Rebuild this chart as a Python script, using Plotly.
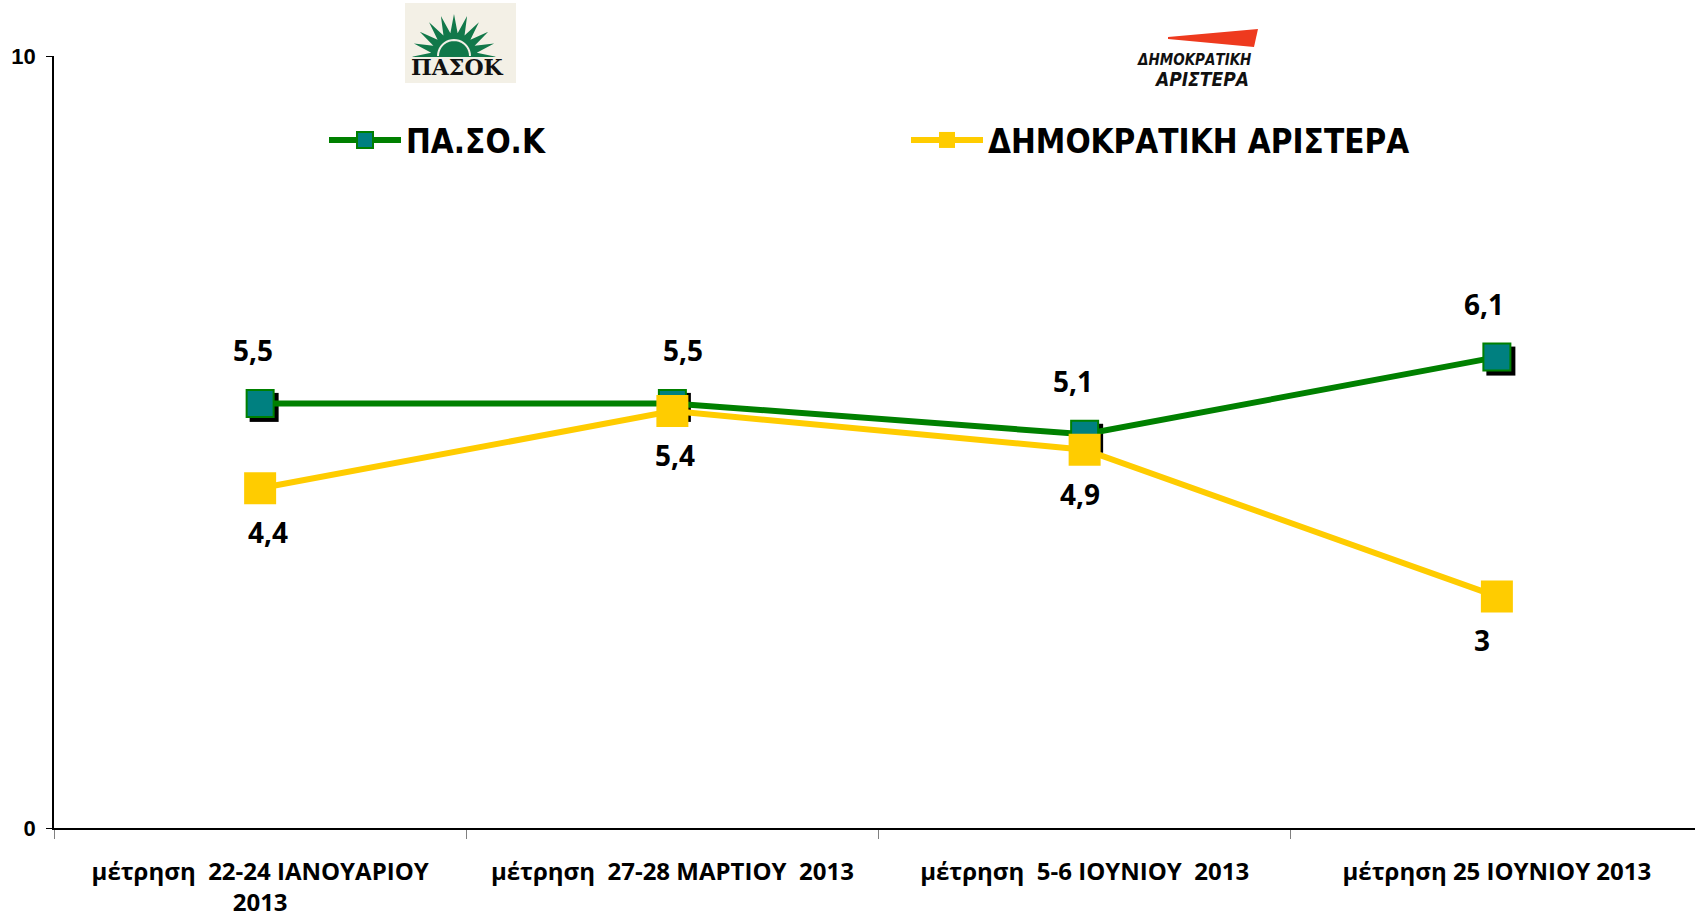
import math
import plotly.graph_objects as go

# ---------------- data ----------------
categories = [
    "μέτρηση  22-24 ΙΑΝΟΥΑΡΙΟΥ<br>2013",
    "μέτρηση  27-28 ΜΑΡΤΙΟΥ  2013",
    "μέτρηση  5-6 ΙΟΥΝΙΟΥ  2013",
    "μέτρηση 25 ΙΟΥΝΙΟΥ 2013",
]
pasok_name = "ΠΑ.ΣΟ.Κ"
dimar_name = "ΔΗΜΟΚΡΑΤΙΚΗ ΑΡΙΣΤΕΡΑ"
pasok = [5.5, 5.5, 5.1, 6.1]
dimar = [4.4, 5.4, 4.9, 3.0]
pasok_labels = ["5,5", "5,5", "5,1", "6,1"]
dimar_labels = ["4,4", "5,4", "4,9", "3"]
y_ticks = [0, 10]

# ---------------- layout geometry (pixels) ----------------
W, H = 1703, 920   # plot area runs slightly past the right edge of the 1695 window
ML, MR, MT, MB = 54, 0, 56, 92
PW, PH = W - ML - MR, H - MT - MB


def px(x):
    return (x - ML) / PW


def py(y):
    return (H - MB - y) / PH


GREEN = "#008000"
TEAL = "#008080"
YELLOW = "#FFCC00"
LABEL_FONT = dict(family="Open Sans, Noto Sans, sans-serif", size=28, color="black", weight="bold")

fig = go.Figure()

# shadow of the PASOK markers (on hidden, slightly shifted axes)
fig.add_trace(go.Scatter(
    x=categories, y=pasok, mode="markers", xaxis="x", yaxis="y",
    marker=dict(symbol="square", size=29, color="black", line=dict(width=0)),
    showlegend=False, hoverinfo="skip",
))

fig.add_trace(go.Scatter(
    x=categories, y=pasok, mode="lines+markers", name=pasok_name,
    xaxis="x2", yaxis="y2", legend="legend",
    line=dict(color=GREEN, width=6),
    marker=dict(symbol="square", size=27, color=TEAL, line=dict(color=GREEN, width=2)),
))
fig.add_trace(go.Scatter(
    x=categories, y=dimar, mode="lines+markers", name=dimar_name,
    xaxis="x2", yaxis="y2", legend="legend2",
    line=dict(color=YELLOW, width=6),
    marker=dict(symbol="square", size=32, color=YELLOW, line=dict(width=0)),
))

annotations = []
pasok_dx = [-7, 11, -12, -13]
dimar_dx = [8, 3, -5, -15]
for c, v, t, dx in zip(categories, pasok, pasok_labels, pasok_dx):
    annotations.append(dict(x=c, y=v, xref="x2", yref="y2", text=t,
                            showarrow=False, yshift=53, xshift=dx, font=LABEL_FONT))
for c, v, t, dx in zip(categories, dimar, dimar_labels, dimar_dx):
    annotations.append(dict(x=c, y=v, xref="x2", yref="y2", text=t,
                            showarrow=False, yshift=-44, xshift=dx, font=LABEL_FONT))

# ---------------- logos (decorative) ----------------
shapes = []
# PASOK logo
shapes.append(dict(type="rect", xref="paper", yref="paper",
                   x0=px(405), x1=px(516), y0=py(83), y1=py(3),
                   fillcolor="#F3F0E6", line=dict(width=0), layer="above"))
cx, cy = 454, 56
pts = []
n = 11
for i in range(2 * n + 1):
    a = math.radians(-10 + 200 * i / (2 * n))
    r = 42 if i % 2 == 1 else 23
    pts.append((cx + r * math.cos(a), cy - r * math.sin(a)))
path = "M " + " L ".join("%f,%f" % (px(x), py(y)) for x, y in pts) + " Z"
shapes.append(dict(type="path", xref="paper", yref="paper", path=path,
                   fillcolor="#11784A", line=dict(width=0), layer="above"))
arc = []
for i in range(21):
    a = math.radians(180 * i / 20)
    arc.append((cx + 16 * math.cos(a), cy - 16 * math.sin(a)))
apath = "M " + " L ".join("%f,%f" % (px(x), py(y)) for x, y in arc)
shapes.append(dict(type="path", xref="paper", yref="paper", path=apath,
                   line=dict(color="#F3F0E6", width=2), layer="above"))
shapes.append(dict(type="rect", xref="paper", yref="paper",
                   x0=px(412), x1=px(500), y0=py(78), y1=py(57),
                   fillcolor="#F3F0E6", line=dict(width=0), layer="above"))
annotations.append(dict(x=px(457), y=py(67), xref="paper", yref="paper",
                        xanchor="center", yanchor="middle",
                        text="<b>ΠΑΣΟΚ</b>", showarrow=False,
                        font=dict(family="DejaVu Serif, serif", size=22, color="#111111")))
# DIMAR logo
wedge = [(1168, 37), (1258, 29), (1254, 47), (1168, 39)]
wpath = "M " + " L ".join("%f,%f" % (px(x), py(y)) for x, y in wedge) + " Z"
shapes.append(dict(type="path", xref="paper", yref="paper", path=wpath,
                   fillcolor="#EE3A1E", line=dict(width=0), layer="above"))
annotations.append(dict(x=px(1194), y=py(60), xref="paper", yref="paper",
                        xanchor="center", yanchor="middle",
                        text="<b><i>ΔΗΜΟΚΡΑΤΙΚΗ</i></b>", showarrow=False,
                        font=dict(family="DejaVu Sans Condensed, DejaVu Sans", size=15, color="#111111")))
annotations.append(dict(x=px(1201), y=py(79), xref="paper", yref="paper",
                        xanchor="center", yanchor="middle",
                        text="<b><i>ΑΡΙΣΤΕΡΑ</i></b>", showarrow=False,
                        font=dict(family="DejaVu Sans Condensed, DejaVu Sans", size=19, color="#111111")))

LEG_FONT = dict(family="DejaVu Sans Condensed, DejaVu Sans", size=33, color="black", weight="bold")
eps_x = 4 * 4 / PW
eps_y = 4 * 10 / PH

fig.update_layout(
    width=W, height=H,
    margin=dict(l=ML, r=MR, t=MT, b=MB),
    paper_bgcolor="white", plot_bgcolor="white",
    showlegend=True,
    xaxis=dict(type="category", visible=False, range=[-0.5 - eps_x, 3.5 - eps_x],
               categoryorder="array", categoryarray=categories),
    yaxis=dict(visible=False, range=[0 + eps_y, 10 + eps_y]),
    xaxis2=dict(type="category", overlaying="x", anchor="y2", side="bottom",
                range=[-0.5, 3.5], categoryorder="array", categoryarray=categories,
                tickson="boundaries", ticks="outside", ticklen=9, tickcolor="#808080",
                tickwidth=1, showline=True, linecolor="black", linewidth=2,
                showgrid=False, zeroline=False, ticklabelstandoff=21,
                tickfont=dict(family="Open Sans, Noto Sans, sans-serif", size=24,
                              color="black", weight="bold")),
    yaxis2=dict(overlaying="y", anchor="x2", range=[0, 10], tickvals=y_ticks,
                ticks="outside", ticklen=6, tickcolor="black", showline=True,
                linecolor="black", linewidth=1.5, showgrid=False, zeroline=False,
                ticklabelstandoff=6,
                tickfont=dict(family="Liberation Sans, Arial, sans-serif", size=22,
                              color="black", weight="bold")),
    legend=dict(x=px(324), y=py(140), xanchor="left", yanchor="middle",
                orientation="h", font=LEG_FONT, bgcolor="rgba(0,0,0,0)", itemwidth=72),
    legend2=dict(x=px(906), y=py(140), xanchor="left", yanchor="middle",
                 orientation="h", font=LEG_FONT, bgcolor="rgba(0,0,0,0)", itemwidth=72),
    shapes=shapes,
    annotations=annotations,
)

fig.write_html(
    "out.html",
    config={"displayModeBar": False},
    post_script="document.body.style.margin='0';document.body.style.overflow='hidden';",
)
